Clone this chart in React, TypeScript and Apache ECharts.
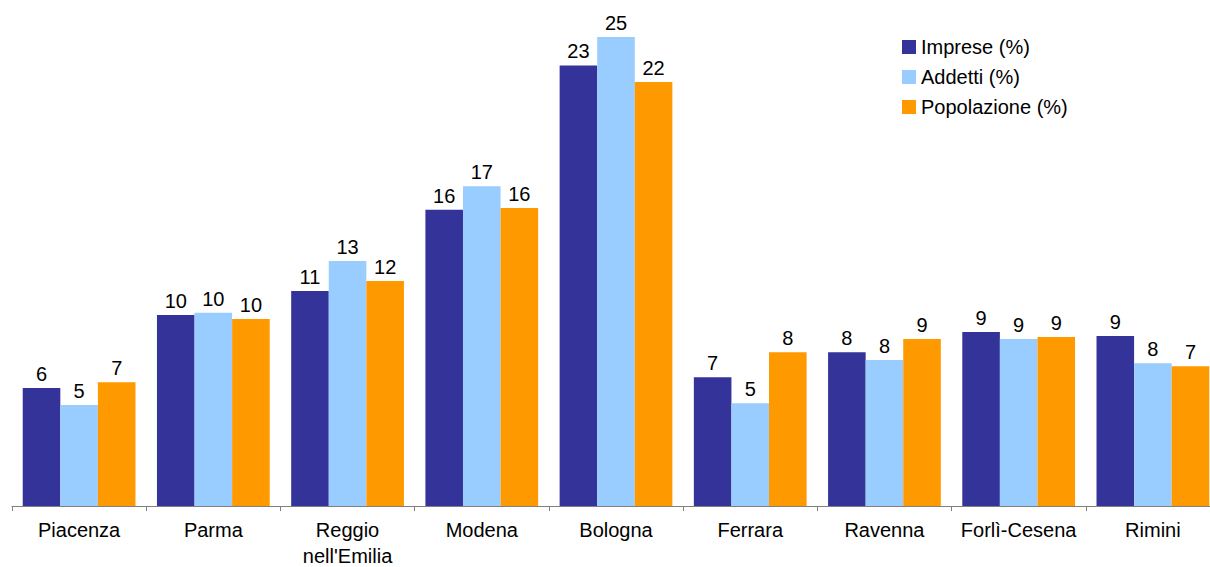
import React, { useEffect, useRef } from "react";
import * as echarts from "echarts";

const categories = [
  "Piacenza",
  "Parma",
  "Reggio\nnell'Emilia",
  "Modena",
  "Bologna",
  "Ferrara",
  "Ravenna",
  "Forlì-Cesena",
  "Rimini",
];

const imprese = [6.23, 10.1, 11.36, 15.65, 23.28, 6.81, 8.13, 9.19, 8.98];
const addetti = [5.34, 10.21, 12.95, 16.9, 24.78, 5.43, 7.71, 8.82, 7.55];
const popolazione = [6.54, 9.88, 11.89, 15.75, 22.4, 8.13, 8.82, 8.93, 7.39];

const seriesNames = ["Imprese (%)", "Addetti (%)", "Popolazione (%)"];
const seriesColors = ["#333399", "#99CCFF", "#FF9900"];

const FONT = "'Liberation Sans', Arial, sans-serif";

export default function App() {
  const ref = useRef<HTMLDivElement>(null);

  useEffect(() => {
    if (!ref.current) return;
    const chart = echarts.init(ref.current, undefined, { renderer: "svg" });
    const dataSets = [imprese, addetti, popolazione];
    chart.setOption({
      animation: false,
      backgroundColor: "#ffffff",
      textStyle: { fontFamily: FONT },
      legend: {
        orient: "vertical",
        left: 897,
        top: 32,
        padding: 5,
        itemWidth: 14,
        itemHeight: 14,
        itemGap: 10,
        itemTextGap: 4,
        icon: "rect",
        textStyle: { fontFamily: FONT, fontSize: 20, color: "#000" },
        data: seriesNames,
      },
      grid: {
        left: 12,
        width: 1208,
        top: 14,
        bottom: 61,
        outerBoundsMode: "none",
        containLabel: false,
      },
      xAxis: {
        type: "category",
        data: categories,
        axisLine: { lineStyle: { color: "#808080", width: 1 } },
        axisTick: { show: true, length: 5, alignWithLabel: false, lineStyle: { color: "#808080" } },
        axisLabel: {
          interval: 0,
          margin: 11,
          color: "#000",
          fontFamily: FONT,
          fontSize: 20,
          lineHeight: 26,
        },
      },
      yAxis: {
        type: "value",
        min: 0,
        max: 26,
        show: false,
        splitLine: { show: false },
      },
      series: dataSets.map((d, i) => ({
        name: seriesNames[i],
        type: "bar",
        data: d,
        barGap: "0%",
        barCategoryGap: "16%",
        itemStyle: { color: seriesColors[i] },
        label: {
          show: true,
          position: "top",
          distance: 4,
          color: "#000",
          fontFamily: FONT,
          fontSize: 20,
          formatter: (p: any) => String(Math.round(p.value)),
        },
      })),
    });
    return () => chart.dispose();
  }, []);

  return (
    <div
      ref={ref}
      style={{ position: "fixed", left: 0, top: 0, width: 1210, height: 567, background: "#fff" }}
    />
  );
}
